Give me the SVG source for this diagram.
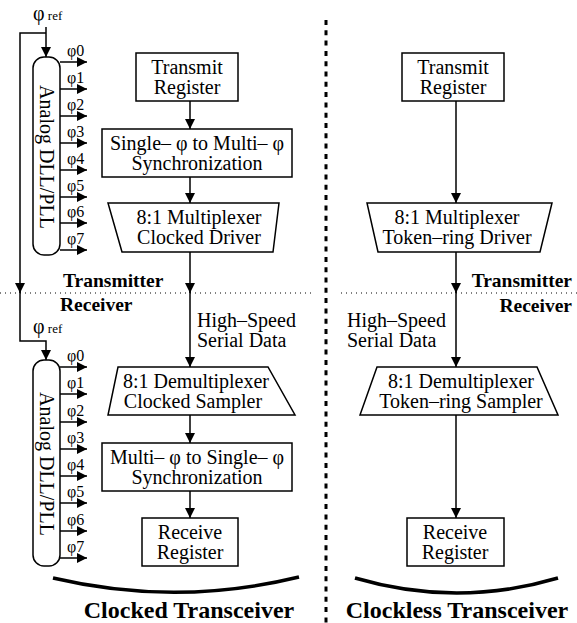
<svg xmlns="http://www.w3.org/2000/svg" width="577" height="623" viewBox="0 0 577 623">
<style>
.t{font-family:"Liberation Serif","Times New Roman",serif;font-size:20px;fill:#000}
.m{text-anchor:middle}
.b{font-weight:bold}
.lbl{font-size:19.5px}
.ph{font-family:"Liberation Serif","Times New Roman",serif;font-size:16px;fill:#000}
.box{fill:#fff;stroke:#000;stroke-width:1.5}
.ln{fill:none;stroke:#000;stroke-width:1.5}
.arc{fill:none;stroke:#000;stroke-width:3.5}
</style>
<defs>
<marker id="ah" markerUnits="userSpaceOnUse" markerWidth="11" markerHeight="11" refX="10" refY="5" orient="auto">
<path d="M0,0 L10,5 L0,10 z" fill="#000"/>
</marker>
</defs>
<rect width="577" height="623" fill="#fff"/>

<!-- separators -->
<g id="separators">
<line x1="326" y1="20" x2="326" y2="623" stroke="#000" stroke-width="3" stroke-dasharray="5 5.3"/>
<line x1="0" y1="293" x2="312" y2="293" stroke="#000" stroke-width="1" stroke-dasharray="1 4"/>
<line x1="341" y1="293" x2="577" y2="293" stroke="#000" stroke-width="1" stroke-dasharray="1 4"/>
<text class="t b lbl" x="63" y="287">Transmitter</text>
<text class="t b lbl" x="60" y="311">Receiver</text>
<text class="t b lbl" x="572" y="287" text-anchor="end">Transmitter</text>
<text class="t b lbl" x="572" y="312" text-anchor="end">Receiver</text>
</g>

<!-- connectors -->
<g id="connectors">
<!-- clock reference -->
<text class="t" x="33" y="20">φ<tspan style="font-size:13px"> ref</tspan></text>
<line class="ln" x1="46" y1="27" x2="46" y2="57" marker-end="url(#ah)"/>
<polyline class="ln" points="46,33 20,33 20,293" marker-end="url(#ah)"/>
<polyline class="ln" points="20,290 20,341 46,341 46,360" marker-end="url(#ah)"/>
<text class="t" x="33" y="333">φ<tspan style="font-size:13px"> ref</tspan></text>

<!-- left column -->
<line class="ln" x1="190" y1="101" x2="190" y2="129" marker-end="url(#ah)"/>
<line class="ln" x1="190" y1="177" x2="190" y2="203" marker-end="url(#ah)"/>
<line class="ln" x1="190" y1="252" x2="190" y2="293" marker-end="url(#ah)"/>
<line class="ln" x1="190" y1="290" x2="190" y2="367" marker-end="url(#ah)"/>
<line class="ln" x1="190" y1="415" x2="190" y2="443" marker-end="url(#ah)"/>
<line class="ln" x1="190" y1="491" x2="190" y2="518" marker-end="url(#ah)"/>
<text class="t" x="197" y="327">High–Speed</text>
<text class="t" x="197" y="347">Serial Data</text>

<!-- right column -->
<line class="ln" x1="456" y1="101" x2="456" y2="203" marker-end="url(#ah)"/>
<line class="ln" x1="456" y1="252" x2="456" y2="293" marker-end="url(#ah)"/>
<line class="ln" x1="456" y1="290" x2="456" y2="367" marker-end="url(#ah)"/>
<line class="ln" x1="456" y1="415" x2="456" y2="518" marker-end="url(#ah)"/>
<text class="t" x="347" y="327">High–Speed</text>
<text class="t" x="347" y="347">Serial Data</text>

<!-- phase outputs tx -->
<g class="ln">
<line x1="60" y1="62" x2="87" y2="62" marker-end="url(#ah)"/>
<line x1="60" y1="89" x2="87" y2="89" marker-end="url(#ah)"/>
<line x1="60" y1="116" x2="87" y2="116" marker-end="url(#ah)"/>
<line x1="60" y1="143" x2="87" y2="143" marker-end="url(#ah)"/>
<line x1="60" y1="170" x2="87" y2="170" marker-end="url(#ah)"/>
<line x1="60" y1="197" x2="87" y2="197" marker-end="url(#ah)"/>
<line x1="60" y1="223" x2="87" y2="223" marker-end="url(#ah)"/>
<line x1="60" y1="250" x2="87" y2="250" marker-end="url(#ah)"/>
</g>
<!-- phase outputs rx -->
<g class="ln">
<line x1="60" y1="367" x2="87" y2="367" marker-end="url(#ah)"/>
<line x1="60" y1="394" x2="87" y2="394" marker-end="url(#ah)"/>
<line x1="60" y1="422" x2="87" y2="422" marker-end="url(#ah)"/>
<line x1="60" y1="449" x2="87" y2="449" marker-end="url(#ah)"/>
<line x1="60" y1="476" x2="87" y2="476" marker-end="url(#ah)"/>
<line x1="60" y1="503" x2="87" y2="503" marker-end="url(#ah)"/>
<line x1="60" y1="531" x2="87" y2="531" marker-end="url(#ah)"/>
<line x1="60" y1="558" x2="87" y2="558" marker-end="url(#ah)"/>
</g>
</g>

<!-- DLL tx -->
<g id="dll-tx">
<rect class="box" x="33" y="57" width="27" height="198" rx="11"/>
<text class="t m" transform="translate(40,157) rotate(90)">Analog DLL/PLL</text>
<text class="ph" x="67" y="56">φ0</text>
<text class="ph" x="67" y="83">φ1</text>
<text class="ph" x="67" y="110">φ2</text>
<text class="ph" x="67" y="137">φ3</text>
<text class="ph" x="67" y="164">φ4</text>
<text class="ph" x="67" y="191">φ5</text>
<text class="ph" x="67" y="217">φ6</text>
<text class="ph" x="67" y="244">φ7</text>
</g>
<!-- DLL rx -->
<g id="dll-rx">
<rect class="box" x="33" y="360" width="27" height="206" rx="11"/>
<text class="t m" transform="translate(40,464) rotate(90)">Analog DLL/PLL</text>
<text class="ph" x="67" y="361">φ0</text>
<text class="ph" x="67" y="388">φ1</text>
<text class="ph" x="67" y="416">φ2</text>
<text class="ph" x="67" y="443">φ3</text>
<text class="ph" x="67" y="470">φ4</text>
<text class="ph" x="67" y="497">φ5</text>
<text class="ph" x="67" y="525">φ6</text>
<text class="ph" x="67" y="552">φ7</text>
</g>

<!-- left nodes -->
<g id="tx-reg-clocked">
<rect class="box" x="136" y="53" width="102" height="48"/>
<text class="t m" x="187" y="74">Transmit</text>
<text class="t m" x="187" y="94">Register</text>
</g>
<g id="sync-tx">
<rect class="box" x="102" y="129" width="190" height="48"/>
<text class="t m" x="197" y="150">Single– φ to Multi– φ</text>
<text class="t m" x="197" y="170">Synchronization</text>
</g>
<g id="mux-clocked">
<polygon class="box" points="108,203 279,203 273,252 122,252"/>
<text class="t m" x="199" y="224">8:1 Multiplexer</text>
<text class="t m" x="199" y="244">Clocked Driver</text>
</g>
<g id="demux-clocked">
<polygon class="box" points="118,367 268,367 295,415 108,415"/>
<text class="t m" x="196" y="388">8:1 Demultiplexer</text>
<text class="t m" x="193" y="408">Clocked Sampler</text>
</g>
<g id="sync-rx">
<rect class="box" x="102" y="443" width="190" height="48"/>
<text class="t m" x="197" y="464">Multi– φ to Single– φ</text>
<text class="t m" x="197" y="484">Synchronization</text>
</g>
<g id="rx-reg-clocked">
<rect class="box" x="142" y="518" width="96" height="48"/>
<text class="t m" x="190" y="539">Receive</text>
<text class="t m" x="190" y="559">Register</text>
</g>

<!-- right nodes -->
<g id="tx-reg-clockless">
<rect class="box" x="402" y="53" width="102" height="48"/>
<text class="t m" x="453" y="74">Transmit</text>
<text class="t m" x="453" y="94">Register</text>
</g>
<g id="mux-clockless">
<polygon class="box" points="367,203 552,203 540,252 378,252"/>
<text class="t m" x="457" y="224">8:1 Multiplexer</text>
<text class="t m" x="457" y="244">Token–ring Driver</text>
</g>
<g id="demux-clockless">
<polygon class="box" points="377,367 537,367 558,415 360,415"/>
<text class="t m" x="461" y="388">8:1 Demultiplexer</text>
<text class="t m" x="461" y="408">Token–ring Sampler</text>
</g>
<g id="rx-reg-clockless">
<rect class="box" x="407" y="518" width="97" height="48"/>
<text class="t m" x="455" y="539">Receive</text>
<text class="t m" x="455" y="559">Register</text>
</g>

<!-- captions -->
<g id="caption-clocked">
<path class="arc" d="M53,578 Q176,607 299,577"/>
<text class="t m b" x="189" y="618" style="font-size:24px">Clocked Transceiver</text>
</g>
<g id="caption-clockless">
<path class="arc" d="M355,578 Q457,608 558,578"/>
<text class="t m b" x="457" y="618" style="font-size:24px">Clockless Transceiver</text>
</g>
</svg>
